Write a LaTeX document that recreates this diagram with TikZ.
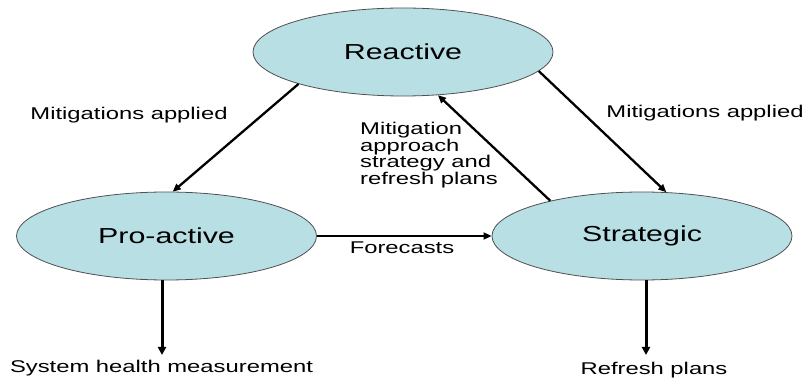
\documentclass[tikz,border=0pt]{standalone}
\usepackage{fontspec}
\setmainfont{Liberation Sans}[FakeStretch=1.4]
\usepackage{tikz}
\usetikzlibrary{shapes.geometric, arrows.meta}

\definecolor{phasefill}{RGB}{184,223,228}
\definecolor{phaseline}{RGB}{80,80,80}

\tikzset{
	phase/.style={ellipse, draw=phaseline, line width=0.8pt, fill=phasefill,
		minimum width=300pt, minimum height=88pt, inner sep=0pt,
		font=\fontsize{21.7}{26}\selectfont},
	lbl/.style={inner sep=0pt, font=\fontsize{17}{16.7}\selectfont},
	flow/.style={line width=2.3pt, -{Triangle[length=8pt,width=7pt]}},
	drop/.style={line width=3pt, -{Triangle[length=8pt,width=8pt]}},
}

\begin{document}
\begin{tikzpicture}[x=1pt, y=-1pt]
	\useasboundingbox (0,0) rectangle (806,379);

	\node[phase] (react) at (403,52) {Reactive};
	\node[phase] (pro) at (166.5,236) {Pro-active};
	\node[phase] (strat) at (642,236) {Strategic};

		%labels
	\node[lbl] (mitleft) at (129,115) {Mitigations applied};
	\node[lbl] (mitright) at (705,113) {Mitigations applied};
	\node[lbl, align=left, anchor=west] (mitback) at (360,155)
		{Mitigation\\approach\\strategy and\\refresh plans};
	\node[lbl] (fore) at (402,248) {Forecasts};
	\node[lbl] (health) at (161.5,368) {System health measurement};
	\node[lbl] (refresh) at (654,370) {Refresh plans};

		%triangle arrows
	\draw[flow] (react.197) -- (pro.82);
	\draw[flow] (react.-8) -- (strat.61);
	\draw[flow] (strat.159) -- (react.-51);
	\draw[flow, line width=1.7pt] (pro) -- (strat);

		%outputs
	\coordinate (proend) at (162,355);
	\coordinate (stratend) at (646,355);
	\draw[drop] (pro.south -| proend) -- (proend);
	\draw[drop] (strat.south -| stratend) -- (stratend);
\end{tikzpicture}
\end{document}
